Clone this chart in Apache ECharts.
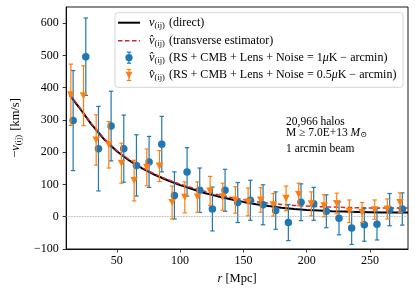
<!DOCTYPE html>
<html>
<head>
<meta charset="utf-8">
<script src="https://cdn.jsdelivr.net/npm/echarts@6/dist/echarts.min.js"></script>
<style>html,body{margin:0;padding:0;background:#fff}#c{width:415px;height:292px}</style>
</head>
<body>
<div id="c"></div>
<script>
// ---- data ----
const rBins = [15,25,35,45,55,65,75,85,95,105,115,125,135,145,155,165,175,185,195,205,215,225,235,245,255,265,275];
const blueVals = [298,496,211,281,211,159,170,225,66,139,82,24,82,44,51,37,19,-18,45,40,17,-5,-35,-25,-23,22,24];
const blueErr  = [155,120,131,108,104,95,79,86,73,75,69,68,65,62,62,62,58,56,57,51,51,51,51,51,49,50,50];
const orangeVals = [378,375,238,223,166,112,153,157,44,60,61,80,62,52,46,52,37,57,69,40,34,41,17,13,22,24,44];
const orangeErr  = [95,93,78,72,62,63,57,48,51,48,47,45,42,41,43,38,35,38,35,37,34,32,35,31,30,31,30];
const rCurve = [13,20,30,40,50,60,70,80,90,100,110,120,130,140,150,160,170,180,190,200,210,220,230,240,250,260,270,280];
const vDirect = [376,340,286,240,203,174,150,130,113,98,85,73,63,54,46,39,33,28,24,21,19,17,16,15,14,13,13,13];
const vTrans  = [378,342,288,242,205,176,152,132,115,101,89,78,68,60,53,47,42,38,35,33,31,30,29,28,27,27,27,27];
const xTicks = [50,100,150,200,250];
const yTicks = [-100,0,100,200,300,400,500,600];

const BLUE = '#1f77b4', ORANGE = '#ff7f0e', RED = '#d62728';
const FONT = '"Liberation Serif", "DejaVu Serif", serif';
const blueDx = 0.5, orangeDx = -1.3; // dodge offsets

function errSeries(name, xs, ys, errs, color, z) {
  return {
    type: 'custom', name: name, z: z, silent: true,
    data: xs.map((x, i) => [x, ys[i] - errs[i], ys[i] + errs[i]]),
    encode: { x: 0, y: [1, 2] },
    renderItem: function (params, api) {
      const x = api.value(0);
      const lo = api.coord([x, api.value(1)]);
      const hi = api.coord([x, api.value(2)]);
      const cw = 2.2;
      const st = { stroke: color, lineWidth: 1.2, fill: null };
      return { type: 'group', children: [
        { type: 'line', shape: { x1: lo[0], y1: lo[1], x2: hi[0], y2: hi[1] }, style: st },
        { type: 'line', shape: { x1: lo[0] - cw, y1: lo[1], x2: lo[0] + cw, y2: lo[1] }, style: st },
        { type: 'line', shape: { x1: hi[0] - cw, y1: hi[1], x2: hi[0] + cw, y2: hi[1] }, style: st }
      ]};
    }
  };
}

const chart = echarts.init(document.getElementById('c'), null, { renderer: 'canvas' });

const richBase = {
  v: { fontFamily: FONT, fontStyle: 'italic', fontSize: 12.5, fill: '#000', lineHeight: 14 },
  s: { fontFamily: FONT, fontSize: 8.5, fill: '#000', lineHeight: 14, padding: [6, 1, 0, 0] },
  t: { fontFamily: FONT, fontSize: 12, fill: '#000', lineHeight: 14 },
  ti: { fontFamily: FONT, fontStyle: 'italic', fontSize: 12, fill: '#000', lineHeight: 14 }
};

function legText(y, txt) {
  return { type: 'text', z: 101, style: { x: 149, y: y, text: txt, rich: richBase, verticalAlign: 'middle', align: 'left' } };
}
const legX0 = 118, legX1 = 140, legXc = 129;
const legRows = [22.7, 40.7, 57.7, 75];

const graphics = [
  { type: 'rect', z: 100, shape: { x: 115, y: 12.7, width: 288, height: 74.6, r: 2.5 },
    style: { fill: 'rgba(255,255,255,0.8)', stroke: '#cccccc', lineWidth: 0.8 } },
  { type: 'line', z: 101, shape: { x1: legX0, y1: legRows[0], x2: legX1, y2: legRows[0] }, style: { stroke: '#000', lineWidth: 2 } },
  { type: 'line', z: 101, shape: { x1: legX0, y1: legRows[1], x2: legX1, y2: legRows[1] }, style: { stroke: RED, lineWidth: 1.5, lineDash: [4.5, 2.5] } },
  // blue handle
  { type: 'line', z: 101, shape: { x1: legXc, y1: legRows[2] - 5.5, x2: legXc, y2: legRows[2] + 5.5 }, style: { stroke: BLUE, lineWidth: 1.2 } },
  { type: 'line', z: 101, shape: { x1: legXc - 2.2, y1: legRows[2] - 5.5, x2: legXc + 2.2, y2: legRows[2] - 5.5 }, style: { stroke: BLUE, lineWidth: 1.2 } },
  { type: 'line', z: 101, shape: { x1: legXc - 2.2, y1: legRows[2] + 5.5, x2: legXc + 2.2, y2: legRows[2] + 5.5 }, style: { stroke: BLUE, lineWidth: 1.2 } },
  { type: 'circle', z: 102, shape: { cx: legXc, cy: legRows[2], r: 3.6 }, style: { fill: BLUE } },
  // orange handle
  { type: 'line', z: 101, shape: { x1: legXc, y1: legRows[3] - 5.5, x2: legXc, y2: legRows[3] + 5.5 }, style: { stroke: ORANGE, lineWidth: 1.2 } },
  { type: 'line', z: 101, shape: { x1: legXc - 2.2, y1: legRows[3] - 5.5, x2: legXc + 2.2, y2: legRows[3] - 5.5 }, style: { stroke: ORANGE, lineWidth: 1.2 } },
  { type: 'line', z: 101, shape: { x1: legXc - 2.2, y1: legRows[3] + 5.5, x2: legXc + 2.2, y2: legRows[3] + 5.5 }, style: { stroke: ORANGE, lineWidth: 1.2 } },
  { type: 'polygon', z: 102, shape: { points: [[legXc - 3.5, legRows[3] - 3.2], [legXc + 3.5, legRows[3] - 3.2], [legXc, legRows[3] + 3.6]] }, style: { fill: ORANGE } },
  legText(legRows[0], '{v|v}{s|(ij)}{t| (direct)}'),
  legText(legRows[1], '{v|v\u0302}{s|(ij)}{t| (transverse estimator)}'),
  legText(legRows[2], '{v|v\u0302}{s|(ij)}{t| (RS + CMB + Lens + Noise = 1}{ti|\u03bc}{t|K \u2212 arcmin)}'),
  legText(legRows[3], '{v|v\u0302}{s|(ij)}{t| (RS + CMB + Lens + Noise = 0.5}{ti|\u03bc}{t|K \u2212 arcmin)}'),
  // annotation
  { type: 'text', z: 101, style: { x: 286, y: 121.5, text: '20,966 halos', font: '11.5px ' + FONT, fill: '#000', verticalAlign: 'middle' } },
  { type: 'text', z: 101, style: { x: 286, y: 132.5, text: '{t|M \u2265 7.0E+13 }{ti|M}{s|\u2299}', rich: {
      t: { fontFamily: FONT, fontSize: 11.5, fill: '#000', lineHeight: 13 },
      ti: { fontFamily: FONT, fontStyle: 'italic', fontSize: 11.5, fill: '#000', lineHeight: 13 },
      s: { fontFamily: FONT, fontSize: 8, fill: '#000', lineHeight: 13, padding: [5, 0, 0, 0] } }, verticalAlign: 'middle' } },
  { type: 'text', z: 101, style: { x: 286, y: 148.5, text: '1 arcmin beam', font: '11.5px ' + FONT, fill: '#000', verticalAlign: 'middle' } }
];

const option = {
  animation: false,
  backgroundColor: '#fff',
  grid: { left: 61, right: 7, top: 7, bottom: 43, show: true, borderColor: '#000', borderWidth: 0.9, backgroundColor: 'transparent' },
  xAxis: {
    type: 'value', min: 10, max: 280,
    name: '{i|r}{n| [Mpc]}', nameLocation: 'middle', nameGap: 21,
    nameTextStyle: { rich: { i: { fontFamily: FONT, fontStyle: 'italic', fontSize: 12.5, color: '#000' }, n: { fontFamily: FONT, fontSize: 12.5, color: '#000' } } },
    axisLine: { show: true, onZero: false, lineStyle: { color: '#000', width: 0.9 } },
    axisTick: { show: true, inside: false, length: 3.5, customValues: xTicks, lineStyle: { color: '#000', width: 0.8 } },
    axisLabel: { customValues: xTicks, margin: 6, fontFamily: FONT, fontSize: 12, color: '#000' },
    splitLine: { show: false }
  },
  yAxis: {
    type: 'value', min: -100, max: 650, interval: 100,
    name: '{t|\u2212}{i|v}{s|(ij)}{t| [km/s]}', nameLocation: 'middle', nameGap: 40, nameRotate: 90,
    nameTextStyle: { rich: {
      t: { fontFamily: FONT, fontSize: 12.5, color: '#000', lineHeight: 15 },
      i: { fontFamily: FONT, fontStyle: 'italic', fontSize: 12.5, color: '#000', lineHeight: 15 },
      s: { fontFamily: FONT, fontSize: 8.5, color: '#000', lineHeight: 15, padding: [6, 1, 0, 0] } } },
    axisLine: { show: true, onZero: false, lineStyle: { color: '#000', width: 0.9 } },
    axisTick: { show: true, inside: false, length: 3.5, customValues: yTicks, lineStyle: { color: '#000', width: 0.8 } },
    axisLabel: { customValues: yTicks, margin: 7.5, fontFamily: FONT, fontSize: 12, color: '#000',
      formatter: v => String(v).replace('-', '\u2212') },
    splitLine: { show: false }
  },
  graphic: graphics,
  series: [
    { type: 'line', name: 'direct', z: 2, data: rCurve.map((r, i) => [r, vDirect[i]]), showSymbol: false, smooth: false,
      lineStyle: { color: '#000', width: 2 }, silent: true,
      markLine: { silent: true, symbol: 'none', label: { show: false }, lineStyle: { color: '#999', type: 'dotted', width: 0.8 }, data: [{ yAxis: 0 }] } },
    { type: 'line', name: 'transverse', z: 3, data: rCurve.map((r, i) => [r, vTrans[i]]), showSymbol: false, smooth: false,
      lineStyle: { color: RED, width: 1.5, type: [4.5, 2.5] }, silent: true },
    errSeries('blueErr', rBins.map(r => r + blueDx), blueVals, blueErr, BLUE, 4),
    { type: 'scatter', name: 'blue', z: 5, data: rBins.map((r, i) => [r + blueDx, blueVals[i]]), symbol: 'circle', symbolSize: 7.5,
      itemStyle: { color: BLUE, opacity: 1 }, silent: true },
    errSeries('orangeErr', rBins.map(r => r + orangeDx), orangeVals, orangeErr, ORANGE, 6),
    { type: 'scatter', name: 'orange', z: 7, data: rBins.map((r, i) => [r + orangeDx, orangeVals[i]]), symbol: 'triangle', symbolRotate: 180, symbolSize: [7.5, 7],
      itemStyle: { color: ORANGE, opacity: 1 }, silent: true }
  ]
};
chart.setOption(option);
</script>
</body>
</html>
